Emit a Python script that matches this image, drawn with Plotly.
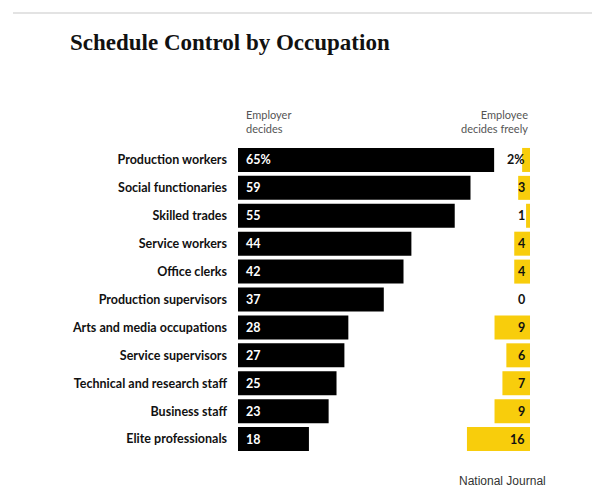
import plotly.graph_objects as go

categories = ["Production workers", "Social functionaries", "Skilled trades", "Service workers",
              "Office clerks", "Production supervisors", "Arts and media occupations",
              "Service supervisors", "Technical and research staff", "Business staff",
              "Elite professionals"]
employer_decides = [65, 59, 55, 44, 42, 37, 28, 27, 25, 23, 18]
employee_decides = [2, 3, 1, 4, 4, 0, 9, 6, 7, 9, 16]

BLACK = "#000000"
YELLOW = "#F8CD0C"
RANGE_MAX = 74.1

# page body has an 8px margin; work in page pixel coordinates
OFF = 8
W, H = 600 - OFF, 500 - OFF
L, R, T, B = 238 - OFF, 70, 146 - OFF, 47
pw = W - L - R
ph = H - T - B


def px(x):
    return (x - OFF - L) / pw


def py(y):
    return (H - B - (y - OFF)) / ph


fig = go.Figure()
fig.add_trace(go.Bar(y=categories, x=employer_decides, orientation="h",
                     marker=dict(color=BLACK, line=dict(width=0)),
                     xaxis="x", yaxis="y", hoverinfo="x+y"))
fig.add_trace(go.Bar(y=categories, x=employee_decides, orientation="h",
                     marker=dict(color=YELLOW, line=dict(width=0)),
                     xaxis="x2", yaxis="y", hoverinfo="x+y"))

annotations = []
for i, (c, v) in enumerate(zip(categories, employer_decides)):
    annotations.append(dict(x=0, y=c, xref="x", yref="y", xanchor="left", xshift=6,
                            text=f"{v}%" if i == 0 else str(v), showarrow=False,
                            font=dict(family="Lato, Open Sans, sans-serif", size=12.5, color="white",
                                      weight="bold")))
for i, (c, v) in enumerate(zip(categories, employee_decides)):
    annotations.append(dict(x=0, y=c, xref="x2", yref="y", xanchor="right", xshift=-3,
                            text=f"{v}%" if i == 0 else str(v), showarrow=False,
                            font=dict(family="Lato, Open Sans, sans-serif", size=12.5, color="#111",
                                      weight="bold")))

annotations += [
    dict(x=px(68), y=py(42), xref="paper", yref="paper", xanchor="left", yanchor="middle",
         text="<b>Schedule Control by Occupation</b>", showarrow=False,
         font=dict(family="Liberation Serif, Georgia, serif", size=23, color="#111")),
    dict(x=px(244), y=py(122), xref="paper", yref="paper", xanchor="left", yanchor="middle",
         text="Employer<br>decides", showarrow=False, align="left",
         font=dict(family="Lato, Open Sans, sans-serif", size=11, color="#555")),
    dict(x=px(530), y=py(122), xref="paper", yref="paper", xanchor="right", yanchor="middle",
         text="Employee<br>decides freely", showarrow=False, align="right",
         font=dict(family="Lato, Open Sans, sans-serif", size=11, color="#555")),
    dict(x=px(502), y=py(481), xref="paper", yref="paper", xanchor="center", yanchor="middle",
         text="National Journal", showarrow=False,
         font=dict(family="Liberation Sans, Arial, sans-serif", size=12, color="#333")),
]

fig.update_layout(
    width=W, height=H,
    margin=dict(l=L, r=R, t=T, b=B),
    paper_bgcolor="white", plot_bgcolor="white",
    showlegend=False,
    bargap=0.14,
    xaxis=dict(range=[0, RANGE_MAX], visible=False, fixedrange=True),
    xaxis2=dict(range=[RANGE_MAX, 0], visible=False, overlaying="x", fixedrange=True),
    yaxis=dict(autorange="reversed", showgrid=False, zeroline=False, showline=False,
               ticks="", ticklabelstandoff=10,
               tickfont=dict(family="Lato, Open Sans, sans-serif", size=12.5, color="#111",
                             weight="bold")),
    annotations=annotations,
    shapes=[dict(type="line", xref="paper", yref="paper",
                 x0=px(13), x1=px(600), y0=py(13), y1=py(13),
                 line=dict(color="#e3e3e3", width=2))],
)

fig.write_html("out.html")
